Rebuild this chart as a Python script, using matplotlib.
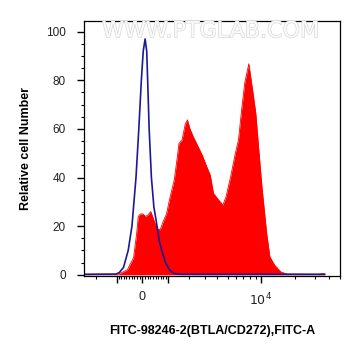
import numpy as np
import matplotlib
matplotlib.use("Agg")
import matplotlib.pyplot as plt
import matplotlib.patheffects as pe

plt.rcParams["font.family"] = ["Liberation Sans", "DejaVu Sans"]

# display channel (0-256 across the axis) and relative counts
iso_x = [0, 34.3, 37.7, 42, 47, 51, 55.3, 58.3, 61, 63, 65, 66.7, 67.7, 69.3, 71.7,
         74.3, 77.7, 80, 82.7, 86.7, 91, 96, 102.7, 256]
iso_y = [0.2, 0.3, 1, 3, 10, 20, 40, 60, 80, 92, 97, 92, 80, 60, 40,
         28, 20, 14, 10, 5, 2, 0.5, 0.2, 0.2]

stain_x = [0, 36, 46, 52.7, 56, 57.7, 60, 62.7, 65.3, 67.7, 71, 74.3, 77.7, 81, 84.3,
           87.7, 91, 96, 99.3, 101, 104.3, 107.7, 110, 112.7, 116, 121, 126, 131,
           134.3, 137.7, 142.7, 147.7, 151, 156, 161, 164.3, 167.7, 171, 175.3,
           179.3, 182.7, 186, 189.3, 194.3, 197.7, 202.7, 209.3, 216, 249.3, 254.3, 256]
stain_y = [0.2, 0.2, 2, 7, 17, 24, 25, 25, 24, 24.5, 26, 22.5, 19, 18.5, 22,
           25, 31, 39, 48.6, 54, 55.5, 62, 63.7, 60, 57, 53, 49, 44,
           41, 33.5, 31, 28.7, 32, 40.4, 50, 55.5, 68, 79, 86.8,
           76, 66.5, 51, 36, 17, 7.4, 4, 1.2, 0.3, 0.2, 0.5, 0.3]

x_label = "FITC-98246-2(BTLA/CD272),FITC-A"
y_label = "Relative cell Number"


def to_disp(v):
    # biexponential-like display transform (asinh)
    return 62 + 52.7 * np.arcsinh(np.asarray(v, dtype=float) / 1850.0)


fig = plt.figure(figsize=(3.61, 3.56), dpi=100)
ax = fig.add_axes([84 / 361, 80 / 356, 256 / 361, 255.5 / 356])

ax.fill_between(stain_x, stain_y, 0, color="#ff0000", lw=0)
ax.plot(stain_x, stain_y, color="#ff0000", lw=0.6)
ax.plot(iso_x, iso_y, color="#1a1a99", lw=1.2)

ax.set_xlim(0, 256)
ax.set_ylim(-0.5, 104.6)

# y ticks
ax.set_yticks(np.arange(0, 101, 20))
ax.set_yticks(np.arange(0, 104, 5), minor=True)

# x ticks
major_vals = [-1000, 0, 1000, 10000]
minor_vals = ([-2000] + list(range(-900, 0, 100)) + list(range(100, 1000, 100))
              + list(range(2000, 10000, 1000)) + list(range(20000, 60000, 10000)))
ax.set_xticks(to_disp(major_vals))
ax.set_xticklabels(["", "0", "", "$10^4$"])
ax.set_xticks(to_disp(minor_vals), minor=True)

ax.tick_params(axis="both", which="major", direction="out", length=5, width=1,
               labelsize=8.5, colors="black", labelcolor="#222222")
ax.tick_params(axis="both", which="minor", direction="out", length=2.5, width=0.8)
ax.tick_params(axis="y", which="major", pad=8)
ax.tick_params(axis="x", which="major", pad=6, labelsize=9)
for s in ax.spines.values():
    s.set_linewidth(0.9)

ax.set_xlabel(x_label, fontsize=9, fontweight="bold", labelpad=12)
ax.set_ylabel(y_label, fontsize=9, fontweight="bold", labelpad=10)

# watermark
ax.text(0.495, 0.958, "WWW.PTGLAB.COM", transform=ax.transAxes, ha="center", va="center",
        fontsize=16, color="#fafafa", family="DejaVu Sans",
        path_effects=[pe.withStroke(linewidth=0.9, foreground="#d6d6d6")])

fig.savefig("out.png", dpi=100)
